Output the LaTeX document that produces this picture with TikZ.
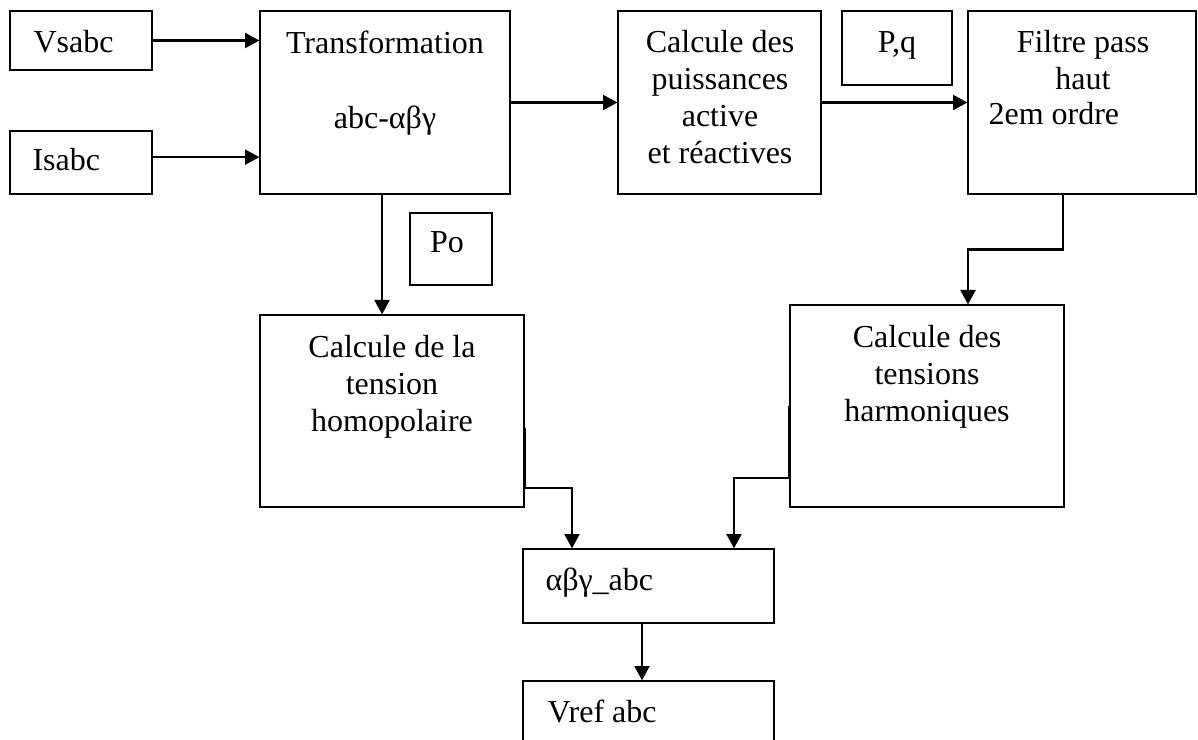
\documentclass[tikz,border=0pt]{standalone}
\usepackage{fontspec}
\setmainfont{Liberation Serif}
\usetikzlibrary{positioning, arrows.meta, fit, calc}

\begin{document}
\begin{tikzpicture}[x=0.375pt, y=-0.375pt,
  font=\fontsize{12pt}{13.8pt}\selectfont,
  box/.style={draw, line width=0.45pt, inner sep=0pt},
  txt/.style={inner sep=0pt, align=center},
  arr/.style={-{Triangle[length=5.4pt, width=5.6pt]}, line width=0.9pt}
]
  \useasboundingbox (0,0) rectangle (1198,740);

  % blocs
  \node[box, fit={(10,11) (152,70)}] (vs) {};
  \node[box, fit={(10,131) (152,194)}] (is) {};
  \node[box, fit={(260,11) (510,194)}] (trans) {};
  \node[box, fit={(618,11) (821,194)}] (calc) {};
  \node[box, fit={(842,11) (952,85)}] (pq) {};
  \node[box, fit={(968,11) (1196,194)}] (filtre) {};
  \node[box, fit={(410,213) (492,285)}] (po) {};
  \node[box, fit={(260,315) (524,507)}] (homo) {};
  \node[box, fit={(790,305) (1064,507)}] (harm) {};
  \node[box, fit={(523,549) (774,623)}] (abc) {};
  \node[box, fit={(523,681) (774,760)}] (vref) {};

  % textes
  \node[txt, anchor=base west] (vs-t) at (33,53) {Vsabc};
  \node[txt, anchor=base west] (is-t) at (32,171) {Isabc};
  \node[txt, anchor=north] (trans-t) at (385,30) {Transformation\\[14.5pt]abc-αβγ};
  \node[txt, anchor=north] (calc-t) at (720,30) {Calcule des\\puissances\\active\\et réactives};
  \node[txt, anchor=base] (pq-t) at (897,53) {P,q};
  \node[txt, anchor=north] (filtre-t) at (1083,30) {Filtre pass\\haut};
  \node[txt, anchor=base west] (filtre-t2) at (988,125) {2em ordre};
  \node[txt, anchor=base] (po-t) at (447,253) {Po};
  \node[txt, anchor=north] (homo-t) at (392,335) {Calcule de la\\tension\\homopolaire};
  \node[txt, anchor=north] (harm-t) at (927,325) {Calcule des\\tensions\\harmoniques};
  \node[txt, anchor=base west] (abc-t) at (545,590) {αβγ\_abc};
  \node[txt, anchor=base west] (vref-t) at (547,722) {Vref abc};

  % liaisons
  \draw[arr] (vs.east) -- (vs.east -| trans.west);
  \draw[arr] ([yshift=2pt]is.east) -- ([yshift=2pt]is.east -| trans.west);
  \foreach \a/\b in {trans/calc, calc/filtre}
    \draw[arr] (\a) -- (\b);
  \draw[arr] ([xshift=-1.1pt]trans.south) -- ([xshift=-1.1pt]trans.south |- homo.north);
  \draw[arr] ($(filtre.south)+(-19,0)$) -- ++(0,55) -| ($(harm.north)+(41,0)$);
  \draw[arr] ($(homo.east)+(0,17)$) -- ++(0,60) -| ($(abc.north)+(-76.5,0)$);
  \draw[arr] (harm.west) -- ++(0,72) -| ($(abc.north)+(85.5,0)$);
  \draw[arr] ($(abc.south)+(-6.5,0)$) -- ($(vref.north)+(-6.5,0)$);
\end{tikzpicture}
\end{document}
